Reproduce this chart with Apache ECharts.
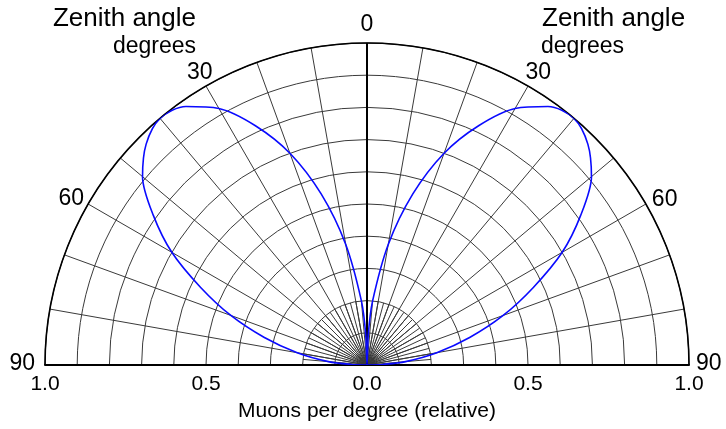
<!DOCTYPE html>
<html>
<head>
<meta charset="utf-8">
<script src="https://cdn.jsdelivr.net/npm/echarts@6/dist/echarts.min.js"></script>
<style>
html,body{margin:0;padding:0;background:#fff;}
#chart{width:726px;height:429px;}
</style>
</head>
<body>
<div id="chart"></div>
<script>
// Zenith angle (degrees) and relative muons per degree
var zenithAngles = [0, 2.5, 5, 10, 15, 20, 25, 30, 35, 40, 45, 50, 55, 60, 65, 70, 75, 80, 85, 88, 90];
var muonRel      = [0, 0.10, 0.20, 0.38, 0.55, 0.70, 0.82, 0.92, 0.98, 1.00, 0.97, 0.91, 0.81, 0.70, 0.57, 0.45, 0.33, 0.22, 0.12, 0.05, 0];
var radialTicks = [-1.0, -0.5, 0.0, 0.5, 1.0];
var angleLabelValues = [-90, -60, -30, 0, 30, 60, 90];
var titleLine1 = 'Zenith angle';
var titleLine2 = 'degrees';
var xTitle = 'Muons per degree (relative)';

var CX = 367, CY = 365, R = 322;
var FONT = 'Liberation Sans, Arial, sans-serif';

var curve = [];
for (var i = zenithAngles.length - 1; i >= 0; i--) curve.push([muonRel[i], -zenithAngles[i]]);
for (var j = 1; j < zenithAngles.length; j++) curve.push([muonRel[j], zenithAngles[j]]);

// label nudges (padding) per tick label, style only
var lblBase = {fontSize: 23, fontFamily: FONT, color: '#000'};
function lbl(pad) { return Object.assign({padding: pad}, lblBase); }
var rich = {
  l90: lbl([0, 25, 2, 0]),
  l60: lbl([0, 17, 1, 0]),
  l30: lbl([0, 1, 15, 0]),
  c0:  lbl([0, 0, 22, 0]),
  r30: lbl([0, 0, 15, 5]),
  r60: lbl([0, 0, 0, 19]),
  r90: lbl([0, 0, 2, 22])
};
var richKey = {'-90': 'l90', '-60': 'l60', '-30': 'l30', '0': 'c0', '30': 'r30', '60': 'r60', '90': 'r90'};

var chart = echarts.init(document.getElementById('chart'));
var gridStyle = {color: '#3a3a3a', width: 1};
chart.setOption({
  animation: false,
  backgroundColor: '#ffffff',
  polar: [
    {center: [CX, CY], radius: R},
    {center: [CX, CY], radius: R * 0.2}
  ],
  angleAxis: [
    {
      polarIndex: 0, type: 'value', min: -90, max: 90, interval: 10,
      startAngle: 180, endAngle: 0, clockwise: true,
      axisLine: {show: true, lineStyle: {color: '#000', width: 1.6}},
      axisTick: {show: false},
      splitLine: {show: true, lineStyle: gridStyle},
      axisLabel: {
        show: true, margin: -15, color: '#000', fontSize: 23, fontFamily: FONT,
        rich: rich,
        formatter: function (v) {
          return angleLabelValues.indexOf(v) >= 0 ? '{' + richKey[String(v)] + '|' + Math.abs(v) + '}' : '';
        }
      }
    },
    {
      polarIndex: 1, type: 'value', min: -90, max: 90, interval: 5,
      startAngle: 180, endAngle: 0, clockwise: true,
      axisLine: {show: false}, axisTick: {show: false}, axisLabel: {show: false},
      splitLine: {show: true, lineStyle: gridStyle}
    }
  ],
  radiusAxis: [
    {
      polarIndex: 0, type: 'value', min: 0, max: 1, interval: 0.1,
      axisLine: {show: false}, axisTick: {show: false}, axisLabel: {show: false},
      splitLine: {show: true, lineStyle: gridStyle}
    },
    {
      polarIndex: 1, type: 'value', min: 0, max: 1, interval: 1,
      axisLine: {show: false}, axisTick: {show: false}, axisLabel: {show: false},
      splitLine: {show: false}
    }
  ],
  grid: {left: CX - R, width: 2 * R, top: CY - 60, height: 60},
  xAxis: {
    type: 'value', min: radialTicks[0], max: radialTicks[radialTicks.length - 1], interval: 0.5,
    axisLine: {show: true, onZero: false, lineStyle: {color: '#000', width: 2}},
    axisTick: {show: false}, splitLine: {show: false},
    axisLabel: {
      color: '#000', fontSize: 21, fontFamily: FONT, margin: 9,
      formatter: function (v) { return Math.abs(v).toFixed(1); }
    },
    name: xTitle, nameLocation: 'middle', nameGap: 36,
    nameTextStyle: {color: '#000', fontSize: 21, fontFamily: FONT}
  },
  yAxis: {type: 'value', min: 0, max: 1, show: false},
  graphic: [
    {type: 'text', right: 726 - 196, top: 6, style: {text: titleLine1, fill: '#000', fontSize: 26, fontFamily: FONT, textAlign: 'right'}},
    {type: 'text', right: 726 - 196, top: 35, style: {text: titleLine2, fill: '#000', fontSize: 23, fontFamily: FONT, textAlign: 'right'}},
    {type: 'text', left: 542, top: 6, style: {text: titleLine1, fill: '#000', fontSize: 26, fontFamily: FONT}},
    {type: 'text', left: 541, top: 35, style: {text: titleLine2, fill: '#000', fontSize: 23, fontFamily: FONT}}
  ],
  series: [
    {
      type: 'line', coordinateSystem: 'polar', polarIndex: 0,
      data: [[0, 0], [1, 0]], showSymbol: false, silent: true,
      lineStyle: {color: '#000', width: 2}
    },
    {
      type: 'line', coordinateSystem: 'polar', polarIndex: 0,
      data: curve, showSymbol: false, smooth: 0.3,
      lineStyle: {color: '#0a0aff', width: 1.6}
    }
  ]
});
</script>
</body>
</html>
